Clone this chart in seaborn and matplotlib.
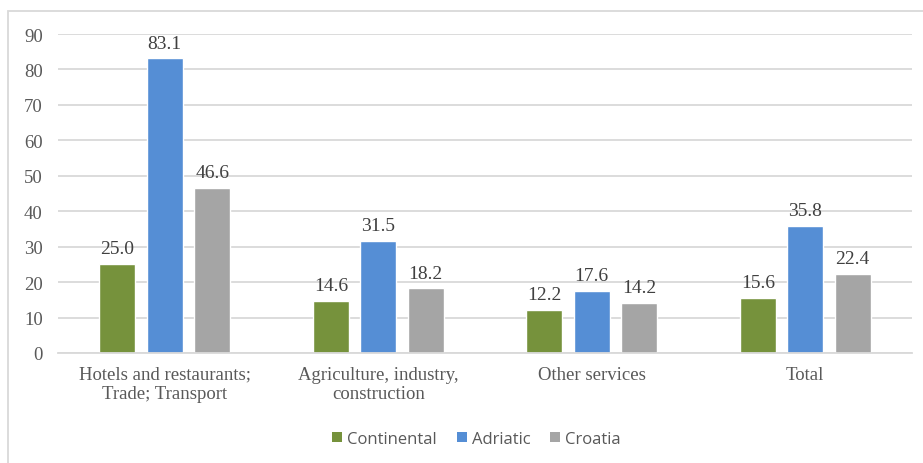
import matplotlib
matplotlib.use("Agg")
import matplotlib.pyplot as plt
from matplotlib.patches import Rectangle, Patch
import seaborn as sns
import pandas as pd

categories = ["Hotels and restaurants;\nTrade; Transport",
              "Agriculture, industry,\nconstruction",
              "Other services",
              "Total"]
series = ["Continental", "Adriatic", "Croatia"]
continental = [25.0, 14.6, 12.2, 15.6]
adriatic = [83.1, 31.5, 17.6, 35.8]
croatia = [46.6, 18.2, 14.2, 22.4]
colors = ["#76923C", "#558ED5", "#A5A5A5"]

rows = []
for name, vals in zip(series, [continental, adriatic, croatia]):
    for cat, v in zip(categories, vals):
        rows.append({"category": cat, "region": name, "value": v})
df = pd.DataFrame(rows)

sns.set_theme(style="white")
plt.rcParams["font.family"] = ["Liberation Serif", "DejaVu Serif"]

fig = plt.figure(figsize=(9.23, 4.64), dpi=100)
ax = fig.add_axes([58 / 923, 1 - 354 / 464, (912 - 58) / 923, (354 - 35) / 464])

sns.barplot(data=df, x="category", y="value", hue="region", order=categories,
            hue_order=series, palette=colors, width=0.667, gap=0.24,
            saturation=1, legend=False, ax=ax, errorbar=None)

for container in ax.containers:
    ax.bar_label(container, fmt="%.1f", padding=5, fontsize=14, color="#404040",
                 family="Liberation Serif")

ax.set_ylim(0, 90)
ax.set_yticks(range(0, 91, 10))
ax.set_xlim(-0.5, 3.5)
ax.grid(axis="y", color="#D9D9D9", linewidth=1.3)
ax.set_axisbelow(True)
for s in ["top", "right", "left"]:
    ax.spines[s].set_visible(False)
ax.spines["bottom"].set_color("#D9D9D9")
ax.spines["bottom"].set_linewidth(1.3)
ax.tick_params(axis="both", length=0, colors="#595959", labelsize=13.5)
ax.tick_params(axis="y", pad=11)
ax.tick_params(axis="x", pad=9)
ax.set_xlabel("")
ax.set_ylabel("")
for lbl in ax.get_xticklabels():
    lbl.set_linespacing(1.2)

handles = [Patch(facecolor=c, edgecolor="none") for c in colors]
fig.legend(handles, series, loc="center", bbox_to_anchor=(0.516, 1 - 440 / 464),
           ncol=3, frameon=False, handlelength=0.6, handleheight=0.6,
           handletextpad=0.3, columnspacing=1.2,
           prop={"family": "Open Sans", "size": 12}, labelcolor="#595959")

# chart frame
fig.patches.append(Rectangle((8 / 923, -0.1), 1.2, 1 - 12 / 464 + 0.1,
                             transform=fig.transFigure, fill=False,
                             edgecolor="#D9D9D9", linewidth=1.3))

fig.savefig("out.png", dpi=100, facecolor="white")
